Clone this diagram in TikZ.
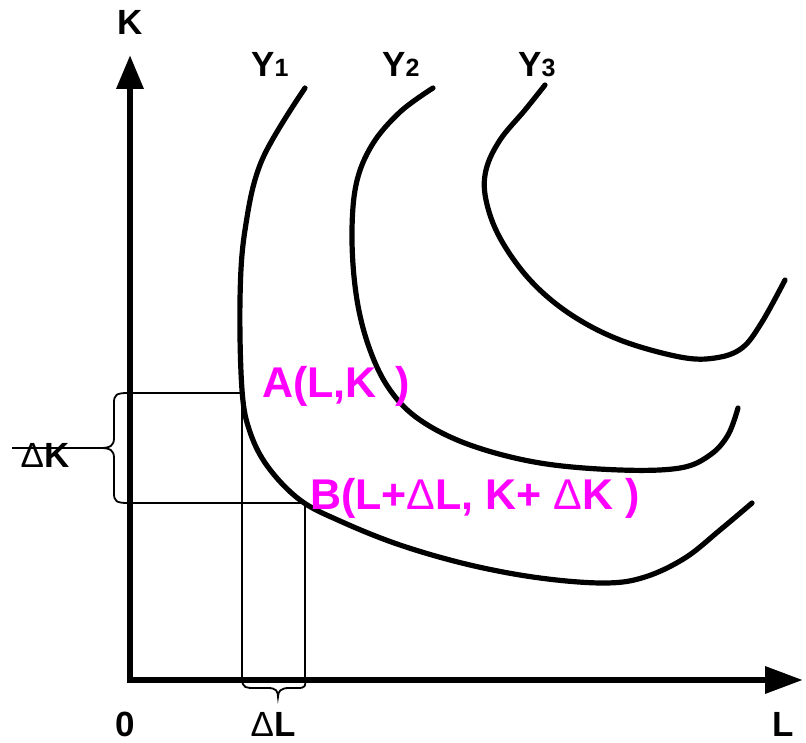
\documentclass[tikz,border=0pt]{standalone}
\usepackage{fontspec}
\setmainfont{Liberation Sans}
\usetikzlibrary{arrows.meta}
\definecolor{mag}{RGB}{255,0,255}
\tikzset{
  axis/.style={line width=6.5pt},
  curve/.style={line width=5.2pt, line cap=round},
  thin/.style={line width=1.8pt},
  lab/.style={font=\fontsize{35}{40}\selectfont\bfseries, inner sep=0pt, anchor=base},
  pt/.style={font=\fontsize{43}{50}\selectfont\bfseries, text=mag, inner sep=0pt, anchor=base west},
}
\newcommand{\dlt}{{\mdseries Δ}}
\begin{document}
\begin{tikzpicture}[x=1pt,y=-1pt]
\useasboundingbox (0,0) rectangle (806,743);
% axes
\coordinate (O) at (130,680);
\coordinate (Ktip) at (130,55);
\coordinate (Ltip) at (803,680);
\draw[axis,-{Triangle[length=34pt,width=26pt]}] ([yshift=-3pt]O) -- (Ktip);
\draw[axis,-{Triangle[length=38pt,width=26pt]}] ([xshift=-3pt]O) -- (Ltip);
% points
\coordinate (A) at (242,393);
\coordinate (B) at (305,503);
\coordinate (Ay) at (130,393);
\coordinate (By) at (130,503);
\coordinate (Ax) at (242,680);
\coordinate (Bx) at (305,680);
\draw[thin] (Ay) -- (A) -- (Ax);
\draw[thin] (By) -- (B) -- (Bx);
% curves
\draw[curve] plot[smooth,tension=0.6] coordinates {(305,88) (262,160) (245,230) (240,300) (242,390) (250,432) (268,467) (300,500) (340,521) (400,545) (470,565) (540,578) (605,583) (645,577) (685,558) (720,530) (752,503)};
\draw[curve] plot[smooth,tension=0.6] coordinates {(433,88) (400,112) (372,145) (356,185) (352,240) (357,300) (370,350) (390,390) (420,420) (470,445) (540,463) (620,470) (680,468) (710,455) (728,435) (738,408)};
\draw[curve] plot[smooth,tension=0.6] coordinates {(545,85) (525,110) (500,140) (486,170) (486,200) (500,238) (530,280) (570,314) (620,340) (680,357) (715,358) (742,348) (762,322) (785,280)};
% left brace
\coordinate (Kt) at (100,448);
\coordinate (Kend) at (12,448);
\draw[thin] (128,393) .. controls (116,393) and (114,395) .. (114,403) -- (114,438) .. controls (114,446) and (110,448) .. (Kt)
  .. controls (110,448) and (114,450) .. (114,458) -- (114,493) .. controls (114,501) and (116,503) .. (128,503);
% labels
\node[lab] (lK) at (130,35) {K};
\node[lab] (l0) at (125,736) {0};
\node[lab] (lDL) at (273,736) {\dlt L};
\node[lab] (lL) at (783,736) {L};
\node[lab] (lDK) at (45,467) {\dlt K};
\draw[line width=1.5pt] (Kt) -- (Kend);
% bottom brace
\coordinate (Lt) at (278,697);
\draw[thin] (Ax) .. controls (243,688) and (246,688) .. (255,688) -- (268,688) .. controls (276,688) and (278,691) .. (Lt)
  .. controls (278,691) and (281,688) .. (289,688) -- (298,688) .. controls (305,688) and (306,686) .. (Bx);
\node[lab] (y1) at (270,77) {Y{\fontsize{25}{28}\selectfont 1}};
\node[lab] (y2) at (401,77) {Y{\fontsize{25}{28}\selectfont 2}};
\node[lab] (y3) at (537,77) {Y{\fontsize{25}{28}\selectfont 3}};
\node[pt] (lA) at (262,397) {A(L,K\, )};
\node[pt] (lB) at (310,509) {B(L+\dlt L, K+ \dlt K )};
\end{tikzpicture}
\end{document}
